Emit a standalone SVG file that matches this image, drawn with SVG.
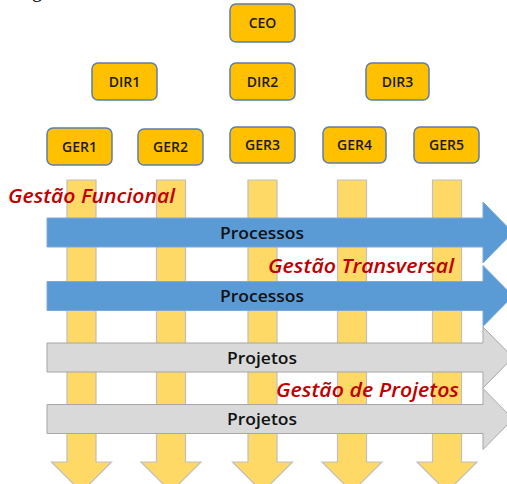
<svg xmlns="http://www.w3.org/2000/svg" xmlns:xlink="http://www.w3.org/1999/xlink" width="507" height="484" viewBox="0 0 507 484">
  <style>
    .box { fill: #FFC000; stroke: #5B7FA8; stroke-width: 1.5; }
    .box-label { font-family: "Open Sans", "Liberation Sans", Arial, sans-serif; font-size: 14px; font-weight: 600; fill: #1a1a1a; text-anchor: middle; }
    .col { fill: #FFD966; stroke: #BFBFBF; stroke-width: 1.2; }
    .proc { fill: #5B9BD5; stroke: #7FA9D6; stroke-width: 1; }
    .proj { fill: #D9D9D9; stroke: #A6A6A6; stroke-width: 1; }
    .flow-label { font-family: "Open Sans", "Liberation Sans", Arial, sans-serif; font-size: 17px; font-weight: 600; fill: #111; text-anchor: middle; }
    .mgmt { font-family: "Open Sans", "Liberation Sans", Arial, sans-serif; font-size: 20px; font-weight: 600; font-style: italic; fill: #C00000; }
  </style>
  <defs>
    <!-- downward column arrow, origin at top centre -->
    <path id="down-arrow" d="M-14.5,0 H14.5 V282 H30 L0,312 L-30,282 H-14.5 Z"/>
    <!-- rightward band arrow, origin at left end of the centre line -->
    <path id="right-arrow" d="M0,-14.5 H436 V-30.5 L466,0 L436,30.5 V14.5 H0 Z"/>
  </defs>

  <rect width="507" height="484" fill="#ffffff"/>

  <!-- descender of a line of text cut off at the top edge -->
  <text x="32" y="-3" font-family="Liberation Serif, serif" font-size="20" fill="#000">g</text>

  <!-- vertical functional columns -->
  <g id="columns">
    <use xlink:href="#down-arrow" class="col" x="81.5" y="180"/>
    <use xlink:href="#down-arrow" class="col" x="171" y="180"/>
    <use xlink:href="#down-arrow" class="col" x="262.5" y="180"/>
    <use xlink:href="#down-arrow" class="col" x="352" y="180"/>
    <use xlink:href="#down-arrow" class="col" x="447" y="180"/>
  </g>

  <!-- horizontal process / project bands -->
  <g id="flows">
    <g id="processos-1">
      <use xlink:href="#right-arrow" class="proc" x="47" y="232.5"/>
      <text class="flow-label" x="262" y="238.5" textLength="84" lengthAdjust="spacingAndGlyphs">Processos</text>
    </g>
    <g id="processos-2">
      <use xlink:href="#right-arrow" class="proc" x="47" y="296"/>
      <text class="flow-label" x="262" y="302" textLength="84" lengthAdjust="spacingAndGlyphs">Processos</text>
    </g>
    <g id="projetos-1">
      <use xlink:href="#right-arrow" class="proj" x="47" y="357.5"/>
      <text class="flow-label" x="262" y="363.5" textLength="70" lengthAdjust="spacingAndGlyphs">Projetos</text>
    </g>
    <g id="projetos-2">
      <use xlink:href="#right-arrow" class="proj" x="47" y="419"/>
      <text class="flow-label" x="262" y="425" textLength="70" lengthAdjust="spacingAndGlyphs">Projetos</text>
    </g>
  </g>

  <!-- management labels -->
  <g id="labels">
    <text class="mgmt" x="8" y="203" textLength="167" lengthAdjust="spacingAndGlyphs">Gestão Funcional</text>
    <text class="mgmt" x="268" y="273" textLength="186" lengthAdjust="spacingAndGlyphs">Gestão Transversal</text>
    <text class="mgmt" x="276" y="397" textLength="183" lengthAdjust="spacingAndGlyphs">Gestão de Projetos</text>
  </g>

  <!-- organisation chart -->
  <g id="ceo">
    <rect class="box" x="230" y="4" width="65" height="38" rx="6"/>
    <text class="box-label" x="262.5" y="28">CEO</text>
  </g>
  <g id="dir1">
    <rect class="box" x="92" y="63" width="65" height="37" rx="6"/>
    <text class="box-label" x="124.5" y="86.5">DIR1</text>
  </g>
  <g id="dir2">
    <rect class="box" x="230" y="63" width="65" height="37" rx="6"/>
    <text class="box-label" x="262.5" y="86.5">DIR2</text>
  </g>
  <g id="dir3">
    <rect class="box" x="366" y="63" width="63" height="37" rx="6"/>
    <text class="box-label" x="397.5" y="86.5">DIR3</text>
  </g>
  <g id="ger1">
    <rect class="box" x="47" y="128" width="65" height="37" rx="6"/>
    <text class="box-label" x="79.5" y="151.5">GER1</text>
  </g>
  <g id="ger2">
    <rect class="box" x="138" y="129" width="65" height="36" rx="6"/>
    <text class="box-label" x="170.5" y="152">GER2</text>
  </g>
  <g id="ger3">
    <rect class="box" x="230" y="127" width="65" height="36" rx="6"/>
    <text class="box-label" x="262.5" y="150">GER3</text>
  </g>
  <g id="ger4">
    <rect class="box" x="323" y="127" width="63" height="36" rx="6"/>
    <text class="box-label" x="354.5" y="150">GER4</text>
  </g>
  <g id="ger5">
    <rect class="box" x="414" y="127" width="65" height="36" rx="6"/>
    <text class="box-label" x="446.5" y="150">GER5</text>
  </g>
</svg>
